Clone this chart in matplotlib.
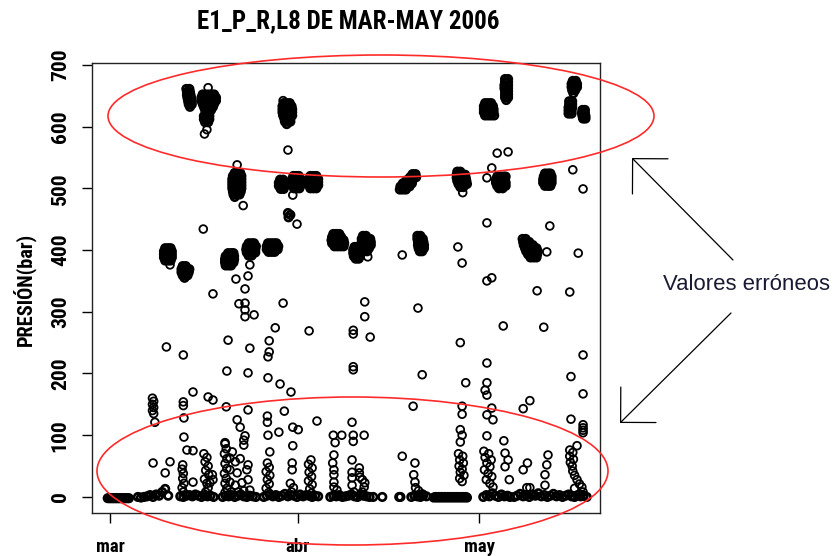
import os
import matplotlib
matplotlib.use('Agg')
import matplotlib.pyplot as plt
from matplotlib import font_manager as fm
from matplotlib.patches import Ellipse, FancyArrowPatch

# ---------------- data (x = days counted from 1 March 2006) ----------------
titulo = 'E1_P_R,L8 DE MAR-MAY 2006'
etiqueta_y = 'PRESIÓN(bar)'
nota = 'Valores erróneos'
x_ticks = [0, 31, 61]
x_labels = ['mar', 'abr', 'may']
y_ticks = [0, 100, 200, 300, 400, 500, 600, 700]
y_labels = ['0', '100', '200', '300', '400', '500', '600', '700']

# dense clusters of readings: (pressure, [days with that reading])
racimos_alto = [
    (661, [12.6, 13.1]), (656, [12.7, 13.2]), (651, [12.7, 13.3]), (646, [12.8, 13.4]), (641, [12.9, 13.5]),
    (636, [13.0, 13.5]), (632, [13.2]),
    (652, [15.3, 15.8, 16.3, 16.8, 17.2]), (647, [15.1, 15.6, 16.1, 16.6, 17.1, 17.5]),
    (642, [15.1, 15.6, 16.1, 16.6, 17.1, 17.5]), (637, [15.3, 15.8, 16.3, 16.8, 17.2]),
    (632, [15.5, 16.0, 16.5, 17.0]), (627, [15.7, 16.2, 16.7]), (622, [16.0, 16.4]),
    (617, [15.5, 16.0, 16.4]), (612, [15.5, 16.0, 16.4]), (607, [15.7, 16.2]),
    (638, [28.7, 29.2, 29.7]), (633, [28.5, 29.0, 29.5, 30.0]), (628, [28.5, 29.0, 29.5, 30.1]),
    (623, [28.5, 29.0, 29.5, 30.1]), (618, [28.6, 29.1, 29.6, 30.1]), (613, [28.8, 29.3, 29.8]),
    (608, [28.9, 29.4, 29.8]), (604, [29.2]),
    (638, [62.0, 62.5, 63.0]), (633, [61.8, 62.3, 62.8, 63.3]), (628, [61.8, 62.3, 62.8, 63.4]),
    (623, [61.8, 62.3, 62.8, 63.4]), (618, [62.0, 62.5, 63.0, 63.5]),
    (677, [65.3, 65.8]), (672, [65.3, 65.8]), (667, [65.2, 65.8]), (662, [65.2, 65.8]), (657, [65.3, 65.8]),
    (652, [65.3, 65.8]), (647, [65.3, 65.8]), (643, [65.5]),
    (674, [76.5, 77.0]), (669, [76.3, 76.8, 77.2]), (664, [76.3, 76.8, 77.2]), (659, [76.4, 76.9]), (654, [76.6]),
    (641, [75.9, 76.4]), (636, [75.9, 76.4]), (631, [75.8, 76.4]), (626, [75.8, 76.3]), (621, [75.8, 76.3]),
    (627, [78.1, 78.5]), (622, [78.0, 78.5]), (617, [78.1, 78.6]), (613, [78.2, 78.6]),
]
racimos_500 = [
    (525, [20.6, 21.1, 21.5]), (520, [20.3, 20.8, 21.3, 21.7]), (515, [20.2, 20.7, 21.2, 21.7]),
    (510, [20.2, 20.7, 21.2, 21.7]), (505, [20.2, 20.7, 21.2, 21.7]), (500, [20.2, 20.7, 21.2, 21.7]),
    (495, [20.3, 20.8, 21.3, 21.6]), (490, [20.4, 20.9, 21.4]), (486, [20.6]),
    (514, [28.1, 28.6]), (509, [27.9, 28.4, 28.9]), (504, [27.9, 28.4, 28.9]), (499, [28.2, 28.7]),
    (520, [30.3, 30.8, 31.2]), (515, [30.1, 30.6, 31.1, 31.5]), (510, [30.1, 30.6, 31.1, 31.5]),
    (505, [30.1, 30.6, 31.1, 31.5]), (500, [30.4, 30.9, 31.3]),
    (460, [29.4]), (457, [29.8]), (453, [29.5]),
    (520, [33.1, 33.6, 34.1]), (515, [32.9, 33.4, 33.9, 34.4]), (510, [32.9, 33.4, 33.9, 34.4]),
    (505, [32.9, 33.4, 33.9, 34.4]), (500, [33.1, 33.6, 34.1]),
    (523, [50.0, 50.5]), (518, [49.6, 50.1, 50.6]), (513, [49.0, 49.5, 50.0]), (508, [48.4, 48.9, 49.4, 49.9]),
    (503, [48.0, 48.5, 49.0, 49.5]), (498, [47.9, 48.4, 48.9]),
    (527, [57.4, 57.9]), (522, [57.3, 57.8, 58.3, 58.7]), (517, [57.3, 57.8, 58.3, 58.8]),
    (512, [57.4, 57.9, 58.4, 58.9]), (507, [57.6, 58.1, 58.6, 59.0]), (502, [57.9, 58.4]),
    (519, [64.0, 64.5, 65.0, 65.4]), (514, [63.8, 64.3, 64.8, 65.3]), (509, [63.8, 64.3, 64.8, 65.4]),
    (504, [64.0, 64.5, 65.0, 65.4]), (500, [64.3, 64.9]),
    (524, [71.9, 72.4, 72.8]), (519, [71.7, 72.2, 72.7, 73.0]), (514, [71.6, 72.1, 72.6, 73.0]),
    (509, [71.6, 72.1, 72.6, 73.0]), (504, [71.9, 72.4, 72.8]),
]
racimos_400 = [
    (403, [9.1, 9.6, 10.0]), (398, [8.9, 9.4, 9.9, 10.2]), (393, [8.9, 9.4, 9.9, 10.2]),
    (388, [8.9, 9.4, 9.9, 10.2]), (383, [9.1, 9.6, 10.0]),
    (374, [12.0, 12.5]), (369, [11.8, 12.3, 12.8, 13.1]), (364, [11.8, 12.3, 12.8, 13.0]),
    (359, [12.0, 12.5, 12.8]), (355, [12.3]),
    (395, [19.5, 20.0, 20.4]), (390, [19.1, 19.6, 20.1, 20.5]), (385, [19.0, 19.5, 20.0, 20.5]),
    (380, [19.0, 19.5, 20.0, 20.4]), (375, [19.1, 19.6, 20.0]),
    (411, [22.9, 23.4, 23.8]), (406, [22.6, 23.1, 23.6, 24.1]), (401, [22.5, 23.0, 23.5, 24.0]),
    (396, [22.6, 23.1, 23.6, 24.0]), (391, [22.9, 23.4]),
    (411, [26.1, 26.6, 27.1, 27.5]), (406, [25.9, 26.4, 26.9, 27.4, 27.8]),
    (401, [25.9, 26.4, 26.9, 27.4, 27.7]), (397, [26.2, 26.7, 27.2]),
    (426, [36.9, 37.4, 37.9]), (421, [36.7, 37.2, 37.7, 38.2]), (416, [36.6, 37.1, 37.6, 38.1, 38.6]),
    (411, [36.7, 37.2, 37.7, 38.2, 38.7]), (406, [37.1, 37.6, 38.1, 38.6]),
    (405, [40.4, 40.9, 41.3]), (400, [40.2, 40.7, 41.2]), (395, [40.2, 40.7, 41.2]), (390, [40.3, 40.8, 41.3]),
    (386, [40.6, 41.1]),
    (423, [41.8, 42.3]), (418, [41.6, 42.1, 42.6, 43.0]), (413, [41.6, 42.1, 42.6, 43.1]),
    (408, [41.7, 42.2, 42.7, 43.1]), (403, [41.8, 42.3, 42.8]), (398, [42.0, 42.5]),
    (423, [50.8, 51.3]), (418, [50.8, 51.3, 51.7]), (413, [50.9, 51.4, 51.8]), (408, [50.9, 51.4, 51.9]),
    (403, [51.0, 51.5, 51.9]), (398, [51.2, 51.6]),
    (418, [68.2, 68.7]), (413, [68.3, 68.8, 69.3]), (408, [68.4, 68.9, 69.4, 69.9]),
    (403, [68.6, 69.1, 69.6, 70.1, 70.5]), (398, [68.8, 69.3, 69.8, 70.3, 70.7]),
    (393, [69.1, 69.6, 70.1, 70.6]), (388, [69.5, 70.0, 70.5]),
]

# isolated readings (day, pressure)
sueltos_altos = [(16.2, 663), (16.0, 595), (15.6, 588), (28.6, 642), (29.4, 562), (64.0, 557), (65.8, 559),
                 (63.1, 533), (21.0, 538), (22.0, 472), (30.2, 489), (30.9, 442), (58.3, 493), (62.3, 517),
                 (76.5, 530), (78.2, 499), (62.3, 444), (72.7, 439), (15.4, 434), (9.9, 376), (42.6, 389),
                 (48.3, 392), (57.5, 405), (72.2, 397), (77.4, 395)]

dispersos = [(23.1, 376), (22.8, 358), (20.8, 353), (22.3, 337), (17.0, 329), (21.3, 313), (22.3, 314), (22.3, 303),
             (22.3, 292), (23.8, 295), (28.6, 314), (27.3, 274), (32.9, 269), (19.5, 254), (26.3, 253), (9.3, 243),
             (23.1, 241), (26.3, 235), (26.1, 227), (12.1, 230), (19.3, 204), (22.8, 201), (26.1, 193), (28.1, 183),
             (29.9, 170), (13.7, 170), (16.2, 162), (17.0, 157), (19.2, 146), (22.8, 141), (28.8, 139), (34.2, 123),
             (58.2, 379), (62.3, 350), (63.1, 355), (70.6, 334), (76.0, 332), (42.1, 316), (42.1, 292), (50.9, 306),
             (65.0, 277), (71.7, 275), (43.0, 259), (40.2, 270), (40.2, 264), (57.9, 250), (62.3, 217), (78.2, 230),
             (40.2, 211), (40.2, 206), (51.6, 198), (58.8, 185), (62.3, 185), (62.0, 173), (62.3, 165), (76.2, 195),
             (78.2, 167), (69.4, 156), (50.1, 147), (58.2, 147), (58.2, 134), (63.1, 144), (62.3, 133), (63.3, 125),
             (68.3, 143), (76.2, 126), (40.0, 121)]

bajos = [(7.0, 160), (7.2, 155), (7.0, 150), (7.2, 145), (7.0, 140), (7.2, 135), (12.1, 154), (12.1, 148),
         (7.4, 121), (12.2, 128), (21.0, 125), (21.5, 113), (26.0, 131), (26.0, 121), (27.9, 105), (30.2, 113),
         (31.1, 109), (12.2, 97), (12.7, 76), (13.7, 75), (19.0, 88), (20.2, 73), (22.1, 92), (22.1, 84), (22.3, 99),
         (26.1, 100), (26.4, 73), (30.2, 83), (36.9, 100), (38.3, 100), (37.2, 88), (7.1, 55), (9.9, 57), (9.1, 39),
         (40.2, 100), (40.2, 90), (42.0, 100), (40.0, 60),
         (57.9, 109), (58.2, 100), (57.9, 89), (62.3, 99), (65.1, 91), (77.2, 83), (48.3, 66), (50.4, 55),
         (50.2, 36), (50.4, 24),
         (78.2, 117), (78.2, 112), (78.2, 108), (78.2, 104),
         (65.3, 71), (65.8, 60), (65.3, 49), (66.0, 28),
         (72.4, 68), (72.2, 52), (71.9, 36), (71.9, 19), (69.0, 55), (68.3, 44), (68.9, 15), (69.4, 15),
         (76.0, 76), (76.5, 72), (76.0, 66), (76.6, 61), (76.1, 56), (76.4, 50), (76.5, 42), (76.8, 35), (77.2, 28),
         (77.6, 21), (76.8, 14), (78.0, 16), (78.2, 8),
         (57.6, 70), (58.3, 66), (57.8, 60), (58.4, 55), (57.7, 50), (58.2, 45), (57.9, 40), (58.5, 35), (57.8, 30),
         (58.2, 25),
         (61.8, 74), (62.6, 70), (62.0, 64), (63.0, 60), (62.3, 55), (62.8, 49), (61.9, 44), (62.5, 38), (63.1, 33),
         (62.2, 28), (62.8, 22), (63.3, 16),
         (12.0, 52), (11.9, 45), (12.1, 38), (12.0, 30), (12.2, 22), (11.9, 15), (12.1, 8), (13.7, 24),
         (15.5, 70), (16.0, 64), (15.7, 57), (16.2, 50), (15.8, 43), (16.3, 36), (15.6, 29), (16.0, 22), (16.2, 15),
         (15.8, 8), (16.9, 36), (17.0, 28), (16.5, 23),
         (19.0, 86), (19.2, 78), (18.9, 70), (19.3, 62), (19.0, 54), (19.3, 46), (18.9, 38), (19.2, 30), (19.0, 22),
         (19.3, 14), (19.0, 7),
         (19.8, 63), (20.7, 57), (21.5, 62), (19.8, 44), (21.0, 39), (22.6, 44), (22.8, 52), (19.8, 24), (20.7, 19),
         (21.8, 23), (22.8, 28), (20.0, 8), (21.2, 8), (22.1, 10), (23.1, 11),
         (26.0, 55), (26.3, 48), (25.8, 41), (26.4, 35), (26.0, 28), (26.3, 21), (25.8, 14), (26.2, 7),
         (30.1, 55), (30.1, 44), (29.8, 22), (30.3, 15), (30.0, 8),
         (33.2, 60), (32.8, 53), (33.4, 47), (32.9, 40), (33.3, 33), (32.8, 26), (33.4, 20), (33.0, 13), (33.3, 6),
         (37.0, 68), (36.8, 55), (37.0, 44), (37.0, 36), (37.0, 24), (37.0, 16), (37.5, 11),
         (41.2, 47), (41.2, 39), (41.3, 32), (41.7, 28), (42.1, 23), (42.0, 16), (41.7, 8), (40.0, 40), (40.0, 31),
         (40.0, 19), (40.3, 8),
         (50.5, 15), (51.0, 10), (51.6, 5)]

# readings at ~0 bar
dias_cero = [-0.4, -0.1, 0.1, 0.4, 0.6, 0.9, 1.1, 1.4, 1.6, 1.9, 2.1, 2.4, 2.6, 2.9, 3.1,
             4.6, 5.1, 5.6, 6.1, 6.6, 7.1, 7.6, 8.1, 8.6, 9.1, 9.6,
             11.6, 12.1, 12.6, 13.1, 13.6, 14.1, 14.6, 15.1, 15.6, 16.1, 16.6, 17.1,
             18.6, 19.1, 19.6, 20.1, 20.6, 21.1, 21.6, 22.1, 22.6, 23.1, 23.6, 24.1,
             25.4, 25.9, 26.4, 26.9, 27.4, 27.9, 28.4, 28.9, 29.4, 29.9, 30.4, 30.9, 31.4, 31.9, 32.4, 32.9, 33.4,
             33.9, 34.4,
             36.4, 36.9, 37.4, 37.9, 38.4, 38.9, 39.4, 39.9, 40.4, 40.9, 41.4, 41.9, 42.4, 42.9, 43.5,
             45.0, 47.8, 48.0,
             49.8, 50.3, 50.8, 51.3, 51.8, 52.3,
             53.5, 53.8, 54.0, 54.3, 54.5, 54.8, 55.0, 55.3, 55.5, 55.8, 56.0, 56.3, 56.5, 56.8, 57.0, 57.3, 57.5,
             57.8, 58.0, 58.3, 58.5, 58.8, 59.0,
             61.7, 62.2, 62.7, 63.2, 63.7, 64.2, 64.7, 65.2, 65.7, 66.1,
             66.8, 67.3, 67.8, 68.3, 68.8, 69.3, 69.8, 70.3, 70.8, 71.3, 71.8, 72.3, 72.8, 73.3, 73.8, 74.3, 74.8,
             75.3, 75.8, 76.3, 76.8, 77.3, 77.8, 78.3, 78.8]
pres_cero = [-2, -2, -2, -2, -2, -2, -2, -2, -2, -2, -2, -2, -2, -2, -2,
             0, -1, 0, 1, 3, 0, 4, 2, 8, 13, 2,
             1, 0, 2, 3, 1, 4, 2, 0, 3, 1, 2, 0,
             0, 2, 1, 3, 0, 2, 4, 1, 0, 2, 1, 0,
             0, 2, 4, 1, 3, 0, 2, 5, 1, 3, 2, 0, 4, 1, 3, 2, 0, 2, 1,
             0, 2, 1, 3, 0, 1, 2, 4, 1, 0, 3, 2, 1, 0, 0,
             0, 0, 0,
             0, 2, 1, 0, 3, 1,
             -1, 0, -1, 0, -1, 0, -1, 0, -1, 0, -1, 0, -1, 0, -1, 0, -1, 0, -1, 0, -1, 0, -1,
             0, 3, 1, 6, 2, 0, 4, 1, 2, 0,
             0, 2, 5, 1, 3, 0, 4, 2, 6, 1, 3, 0, 2, 5, 1, 3, 0, 2, 4, 1, 0, 3, 1, 2, 0]


# ---------------- fonts ----------------
def buscar(patrones):
    for pat in patrones:
        for f in fm.fontManager.ttflist:
            if os.path.basename(f.fname).lower().startswith(pat.lower()):
                return f.fname
    return None

f_estrecha = buscar(['LiberationSansNarrow-Bold.', 'RobotoCondensed-Bold.', 'DejaVuSansCondensed-Bold.',
                     'OpenSans-CondBold', 'OpenSans_Condensed-Bold', 'LiberationSans-Bold.', 'DejaVuSans-Bold.'])
f_normal = buscar(['LiberationSans-Regular.', 'Arimo-Regular.', 'DejaVuSans.'])


def fp_estrecha(size):
    if f_estrecha:
        return fm.FontProperties(fname=f_estrecha, size=size)
    return fm.FontProperties(family='DejaVu Sans', weight='bold', size=size)


# ---------------- figure ----------------
W, H = 833, 556
fig = plt.figure(figsize=(W / 100, H / 100), dpi=100)
fig.patch.set_facecolor('white')


def fx(px):
    return px / W


def fy(py):
    return 1 - py / H


ax = fig.add_axes([fx(92), fy(513), fx(600) - fx(92), fy(63) - fy(513)])

normal_kw = dict(s=31, facecolors='none', edgecolors='black', linewidths=1.3)
denso_kw = dict(s=29, facecolors='none', edgecolors='black', linewidths=1.9)

for grupo in (racimos_alto, racimos_500, racimos_400):
    xs, ys = [], []
    for p, dias in grupo:
        for d in dias:
            xs.append(d)
            ys.append(p)
    ax.scatter(xs, ys, **denso_kw)
ax.scatter(dias_cero, pres_cero, **denso_kw)
for grupo in (sueltos_altos, dispersos, bajos):
    ax.scatter([p[0] for p in grupo], [p[1] for p in grupo], **normal_kw)

ax.set_xlim(-3, 81)
ax.set_ylim(-26, 703)
ax.set_xticks(x_ticks)
ax.set_yticks(y_ticks)
ax.tick_params(axis='x', direction='out', length=7, width=1, pad=11)
ax.tick_params(axis='y', direction='out', length=7, width=1, pad=9)
for s in ax.spines.values():
    s.set_linewidth(1.0)
    s.set_color('#222222')

# title fitted to the reference width
t_titulo = fig.text(fx(348), fy(21), titulo, ha='center', va='center', fontproperties=fp_estrecha(18))
fig.canvas.draw()
r = fig.canvas.get_renderer()
k = 302.0 / t_titulo.get_window_extent(r).width
t_titulo.set_fontsize(18 * k)

ax.set_xticklabels(x_labels, fontproperties=fp_estrecha(13.5 * k))
ax.set_yticklabels(y_labels, fontproperties=fp_estrecha(15.5 * k), rotation=90, va='center')

t_y = fig.text(fx(24), fy(289), etiqueta_y, ha='center', va='center', rotation=90,
               fontproperties=fp_estrecha(13 * k))
fig.canvas.draw()
t_y.set_fontsize(t_y.get_fontsize() * 113.0 / t_y.get_window_extent(r).height)

# red ellipses around the erroneous values
red = '#ff2b2b'
fig.add_artist(Ellipse((fx(381), fy(116)), 546 / W, 122 / H, transform=fig.transFigure,
                       fill=False, edgecolor=red, linewidth=1.2))
fig.add_artist(Ellipse((fx(352.5), fy(471)), 511 / W, 148 / H, transform=fig.transFigure,
                       fill=False, edgecolor=red, linewidth=1.2))

# annotation
if f_normal:
    fp_nota = fm.FontProperties(fname=f_normal, size=15)
else:
    fp_nota = fm.FontProperties(family='DejaVu Sans', size=15)
t_nota = fig.text(fx(663), fy(285), nota, ha='left', va='center', fontproperties=fp_nota, color='#1a1a33')
fig.canvas.draw()
t_nota.set_fontsize(15 * 167.0 / t_nota.get_window_extent(r).width)

for (x0, y0), (x1, y1) in [((733, 260), (632, 158)), ((731, 313), (620, 423))]:
    fig.add_artist(FancyArrowPatch((fx(x0), fy(y0)), (fx(x1), fy(y1)), transform=fig.transFigure,
                                   arrowstyle='->,head_length=0.9,head_width=0.9', mutation_scale=20,
                                   color='black', linewidth=0.9, shrinkA=0, shrinkB=0))

fig.savefig('out.png', dpi=100)
